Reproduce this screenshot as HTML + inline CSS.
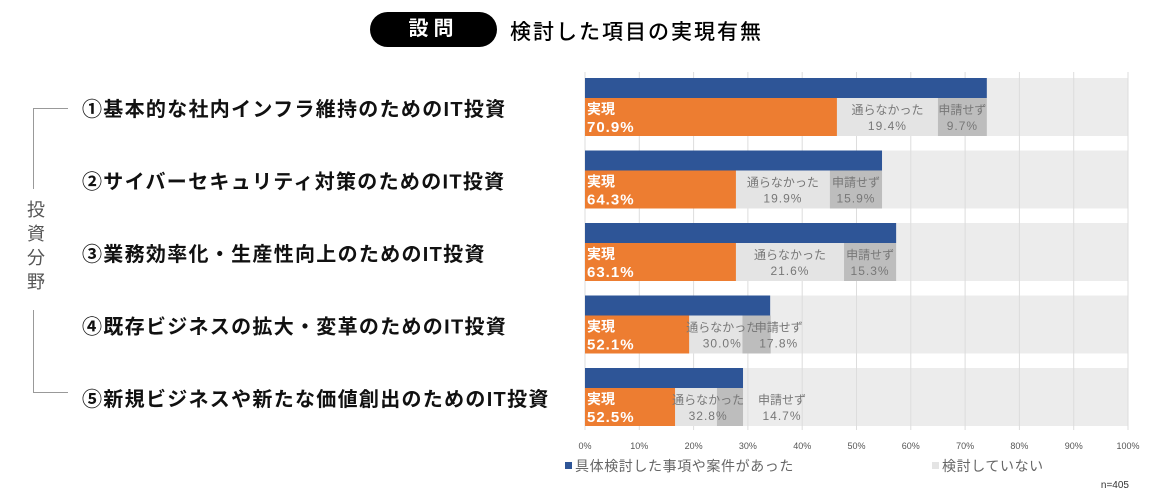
<!DOCTYPE html>
<html><head><meta charset="utf-8"><style>
body{margin:0;width:1170px;height:499px;background:#fff;overflow:hidden;font-family:"Liberation Sans","Noto Sans CJK JP",sans-serif;}
.abs{position:absolute}
</style></head><body>
<div class="abs" style="left:370px;top:12px;width:127px;height:35px;background:#000;border-radius:18px;color:#fff;font-weight:bold;font-size:20px;line-height:35px;text-align:center;letter-spacing:5px">設問</div>
<div class="abs" style="left:510px;top:16px;font-size:21px;letter-spacing:2px;font-weight:500">検討した項目の実現有無</div>
<div class="abs" style="left:33px;top:108px;width:34px;height:80px;border-left:1px solid #999;border-top:1px solid #999"></div>
<div class="abs" style="left:33px;top:310px;width:34px;height:82px;border-left:1px solid #999;border-bottom:1px solid #999"></div>
<div class="abs" style="left:24px;top:198px;width:24px;font-size:18px;line-height:24px;color:#555;text-align:center">投<br>資<br>分<br>野</div>
<svg class="abs" style="left:0;top:0" width="1170" height="499" id="chart"></svg>
<script>
const categories=["①基本的な社内インフラ維持のためのIT投資","②サイバーセキュリティ対策のためのIT投資","③業務効率化・生産性向上のためのIT投資","④既存ビジネスの拡大・変革のためのIT投資","⑤新規ビジネスや新たな価値創出のためのIT投資"];
const considered=[74.0,54.7,57.3,34.1,29.1];
const realized=[46.4,27.8,27.8,19.2,16.6];
const rejected=[18.6,17.3,19.9,9.8,7.7];
const notApplied=[9.0,9.6,9.6,5.2,4.8];
const realizedLabels=["70.9%","64.3%","63.1%","52.1%","52.5%"];
const rejectedLabels=["19.4%","19.9%","21.6%","30.0%","32.8%"];
const notAppliedLabels=["9.7%","15.9%","15.3%","17.8%","14.7%"];
const ticks=[0,10,20,30,40,50,60,70,80,90,100];
const svg=document.getElementById('chart');
const NS='http://www.w3.org/2000/svg';
const x0=585,x1=1128;
const xs=v=>x0+(x1-x0)*v/100;
const rowY=i=>78+i*72.5;
function mk(tag,attrs,txt){const e=document.createElementNS(NS,tag);for(const k in attrs)e.setAttribute(k,attrs[k]);if(txt!==undefined)e.textContent=txt;svg.appendChild(e);return e;}
categories.forEach((c,i)=>{const y=rowY(i);
 const t=mk('text',{x:82,y:y+38,'font-size':20,'font-weight':'bold',fill:'#111','letter-spacing':1.3},c);
 
 
 const bg=mk('rect',{x:x0,y:y,width:x1-x0,height:58,fill:'#ececec'});
 
 
});
ticks.forEach(t=>{const l=mk('line',{x1:xs(t),x2:xs(t),y1:72,y2:430,stroke:'#ddd','stroke-width':1});
 
 
 const tx=mk('text',{x:xs(t),y:449,'font-size':9,fill:'#555','text-anchor':'middle'},t+'%');
 
 
});
categories.forEach((c,i)=>{const y=rowY(i);
 const b=mk('rect',{x:x0,y:y,width:xs(considered[i])-x0,height:20,fill:'#2e5597'});
 
 
 const ly=y+20,h=38;
 const o=mk('rect',{x:x0,y:ly,width:xs(realized[i])-x0,height:h,fill:'#ed7d31'});
 
 
 const r0=xs(realized[i]),r1=xs(realized[i]+rejected[i]),n1=xs(realized[i]+rejected[i]+notApplied[i]);
 const g=mk('rect',{x:r0,y:ly,width:r1-r0,height:h,fill:'#e4e4e4'});
 
 
 const d=mk('rect',{x:r1,y:ly,width:n1-r1,height:h,fill:'#bdbdbd'});
 
 
 const a=mk('text',{x:x0+2,y:ly+16,'font-size':14,'font-weight':'bold',fill:'#fff'},'実現');
 
 
 const a2=mk('text',{x:x0+2,y:ly+34,'font-size':15,'font-weight':'bold',fill:'#fff','letter-spacing':1},realizedLabels[i]);
 
 
 const rc=(r0+r1)/2;
 const nc=i===4?n1+39:(i===3?n1+8:(r1+n1)/2);
 const b1=mk('text',{x:Math.max(rc,r0+33),y:ly+16,'font-size':12,fill:'#777','text-anchor':'middle'},'通らなかった');
 
 
 const b2=mk('text',{x:Math.max(rc,r0+33),y:ly+32,'font-size':12,fill:'#777','text-anchor':'middle','letter-spacing':1},rejectedLabels[i]);
 
 
 const c1=mk('text',{x:nc,y:ly+16,'font-size':12,fill:'#777','text-anchor':'middle'},'申請せず');
 
 
 const c2=mk('text',{x:nc,y:ly+32,'font-size':12,fill:'#777','text-anchor':'middle','letter-spacing':1},notAppliedLabels[i]);
 
 
});
const lg1=mk('rect',{x:565,y:462,width:7,height:7,fill:'#2e5597'});


const lt1=mk('text',{x:575,y:471,'font-size':14,fill:'#666','letter-spacing':0.6},'具体検討した事項や案件があった');


const lg2=mk('rect',{x:932,y:462,width:7,height:7,fill:'#e4e4e4'});


const lt2=mk('text',{x:942,y:471,'font-size':14,fill:'#666','letter-spacing':0.6},'検討していない');


const nn=mk('text',{x:1129,y:488,'font-size':10,fill:'#333','text-anchor':'end'},'n=405');


</script>
</body></html>
